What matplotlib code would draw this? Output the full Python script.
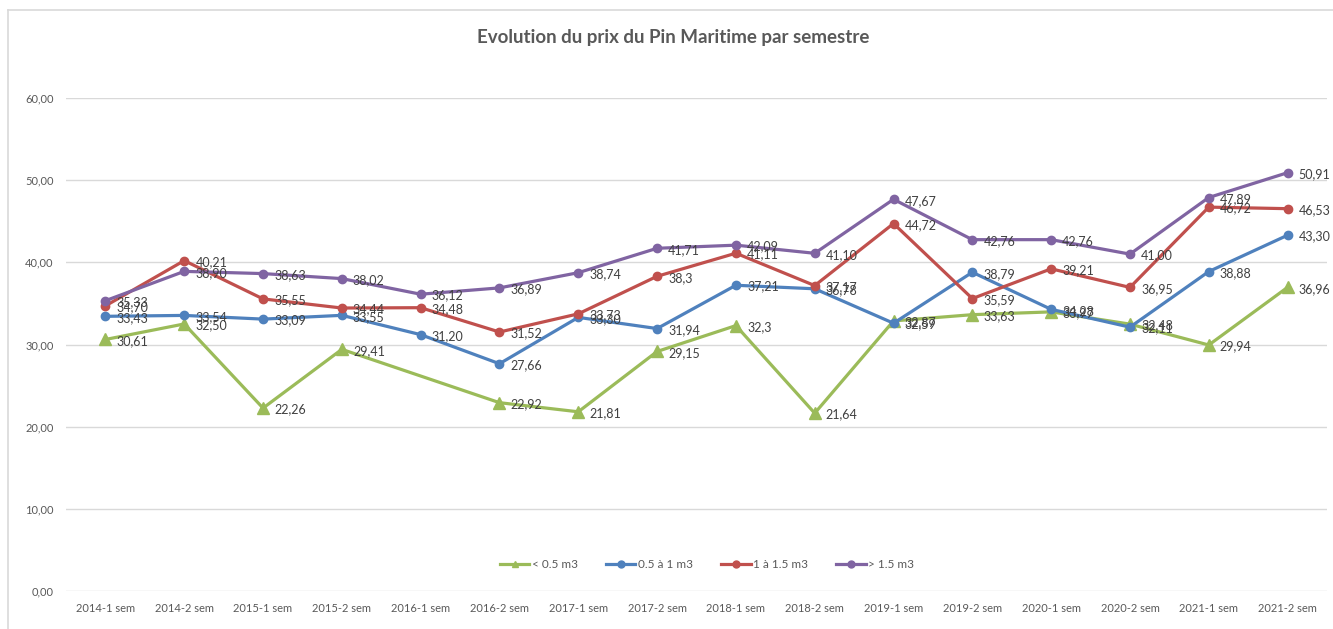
import numpy as np
import matplotlib.pyplot as plt
from matplotlib.lines import Line2D

# Prix moyen du Pin Maritime par semestre et par classe de volume
semestres = ["2014-1 sem", "2014-2 sem", "2015-1 sem", "2015-2 sem",
             "2016-1 sem", "2016-2 sem", "2017-1 sem", "2017-2 sem",
             "2018-1 sem", "2018-2 sem", "2019-1 sem", "2019-2 sem",
             "2020-1 sem", "2020-2 sem", "2021-1 sem", "2021-2 sem"]

moins_05 = [30.61, 32.50, 22.26, 29.41, np.nan, 22.92, 21.81, 29.15,
            32.3, 21.64, 32.87, 33.63, 33.97, 32.48, 29.94, 36.96]
de_05_a_1 = [33.43, 33.54, 33.09, 33.55, 31.20, 27.66, 33.30, 31.94,
             37.21, 36.78, 32.59, 38.79, 34.28, 32.11, 38.88, 43.30]
de_1_a_15 = [34.70, 40.21, 35.55, 34.44, 34.48, 31.52, 33.73, 38.3,
             41.11, 37.17, 44.72, 35.59, 39.21, 36.95, 46.72, 46.53]
plus_15 = [35.33, 38.90, 38.63, 38.02, 36.12, 36.89, 38.74, 41.71,
           42.09, 41.10, 47.67, 42.76, 42.76, 41.00, 47.89, 50.91]

series = [
    ("< 0.5 m3", moins_05, "#9BBB59", "^"),
    ("0.5 à 1 m3", de_05_a_1, "#4F81BD", "o"),
    ("1 à 1.5 m3", de_1_a_15, "#C0504D", "o"),
    ("> 1.5 m3", plus_15, "#8064A2", "o"),
]

# points saisis avec une seule décimale
une_decimale = {("< 0.5 m3", 8), ("1 à 1.5 m3", 7)}

plt.rcParams['font.family'] = ['Lato', 'DejaVu Sans']

fig = plt.figure(figsize=(13.33, 6.29), dpi=100)
ax = fig.add_axes([66 / 1333, 1 - 591 / 629, (1327 - 66) / 1333, (591 - 98) / 629])

x = np.arange(len(semestres))
handles = []
for nom, valeurs, couleur, marqueur in series:
    y = np.array(valeurs, dtype=float)
    ok = ~np.isnan(y)
    ms = 8 if marqueur == "^" else 6
    h, = ax.plot(x[ok], y[ok], color=couleur, lw=2.3, marker=marqueur,
                 markersize=ms, label=nom, zorder=3, solid_capstyle='round')
    handles.append(h)

for nom, valeurs, couleur, marqueur in series:
    for i, v in enumerate(valeurs):
        if np.isnan(v):
            continue
        fmt = "{:.1f}" if (nom, i) in une_decimale else "{:.2f}"
        ax.annotate(fmt.format(v).replace(".", ","), (i, v),
                    xytext=(8, -1), textcoords="offset points",
                    ha="left", va="center", fontsize=9, color="#404040",
                    zorder=5)

ax.set_xlim(-0.5, len(semestres) - 0.5)
ax.set_ylim(0, 60)
ax.set_yticks(np.arange(0, 61, 10))
ax.set_yticklabels([f"{t:.2f}".replace(".", ",") for t in np.arange(0, 61, 10)])
ax.set_xticks(x)
ax.set_xticklabels(semestres)
ax.tick_params(axis="both", length=0, labelsize=8, labelcolor="#595959")
ax.tick_params(axis="y", pad=9)
ax.tick_params(axis="x", pad=9)
ax.grid(axis="y", color="#D9D9D9", lw=1)
ax.set_axisbelow(True)
for s in ax.spines.values():
    s.set_visible(False)

fig.text(673 / 1333, 1 - 37 / 629, "Evolution du prix du Pin Maritime par semestre",
         ha="center", va="center", fontsize=13.5, fontweight="bold", color="#595959")

leg = fig.legend(handles=[Line2D([], [], color=h.get_color(), lw=2.3,
                                 marker=h.get_marker(), markersize=5)
                          for h in handles],
                 labels=[s[0] for s in series], ncol=4, loc="center",
                 bbox_to_anchor=(707 / 1333, 1 - 565 / 629), frameon=False,
                 fontsize=8.5, handlelength=2.5, handletextpad=0.2,
                 columnspacing=2.4)
for t in leg.get_texts():
    t.set_color("#595959")

# cadre du graphique
fig.add_artist(Line2D([8 / 1333, 8 / 1333], [0, 1 - 10 / 629], color="#D9D9D9", lw=1.2))
fig.add_artist(Line2D([8 / 1333, 1], [1 - 10 / 629, 1 - 10 / 629], color="#D9D9D9", lw=1.2))

fig.savefig("out.png", dpi=100)
